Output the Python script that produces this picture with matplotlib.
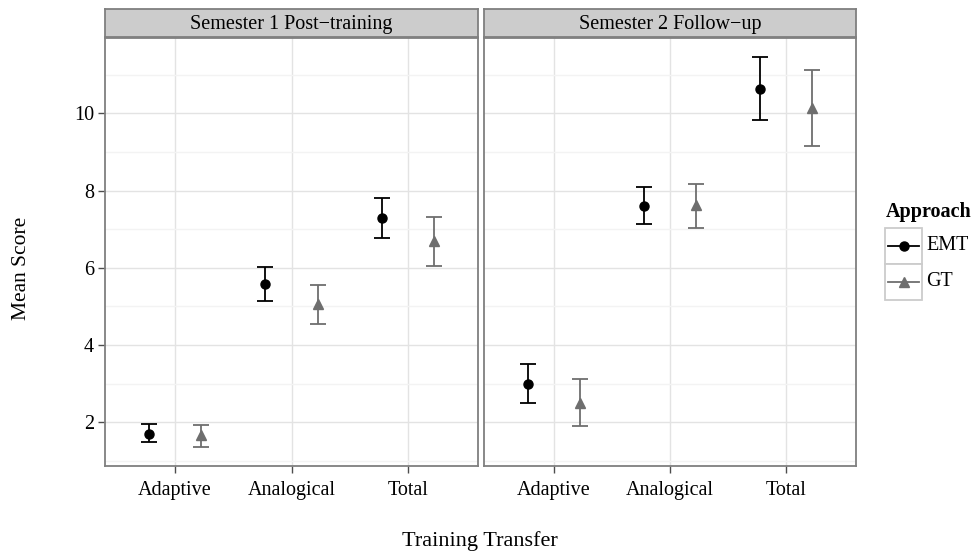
import matplotlib
matplotlib.use("Agg")
import matplotlib.pyplot as plt
from matplotlib.patches import Rectangle
from matplotlib.lines import Line2D

plt.rcParams['font.family'] = ['Liberation Serif', 'DejaVu Serif']

# data
panels = ["Semester 1 Post\u2212training", "Semester 2 Follow\u2212up"]
categories = ["Adaptive", "Analogical", "Total"]
approaches = ["EMT", "GT"]

# mean, lower, upper for each panel -> approach -> category
emt_mean = [[1.70, 5.58, 7.30], [3.00, 7.61, 10.62]]
emt_low = [[1.48, 5.14, 6.76], [2.50, 7.14, 9.83]]
emt_high = [[1.95, 6.01, 7.81], [3.50, 8.10, 11.45]]
gt_mean = [[1.67, 5.07, 6.70], [2.51, 7.63, 10.14]]
gt_low = [[1.37, 4.55, 6.05], [1.90, 7.04, 9.15]]
gt_high = [[1.93, 5.56, 7.31], [3.12, 8.18, 11.12]]

means = {"EMT": emt_mean, "GT": gt_mean}
lows = {"EMT": emt_low, "GT": gt_low}
highs = {"EMT": emt_high, "GT": gt_high}

colors = {"EMT": "black", "GT": "#6e6e6e"}
markers = {"EMT": "o", "GT": "^"}
msize = {"EMT": 6.5, "GT": 7.5}
dodge = {"EMT": -0.225, "GT": 0.225}

W, H = 976, 560
fig = plt.figure(figsize=(W / 100, H / 100), dpi=100)

def fx(px):
    return px / W

def fy(py):
    return 1 - py / H

panel_lr = [(105, 478), (484, 856)]
top, bottom = 38, 466
strip_top = 9
fs = 14.5

for k, (l, r) in enumerate(panel_lr):
    ax = fig.add_axes([fx(l), fy(bottom), fx(r - l), (bottom - top) / H])
    ax.set_xlim(0.4, 3.6)
    ax.set_ylim(0.87, 11.95)
    ax.set_yticks([2, 4, 6, 8, 10])
    ax.set_yticks([1, 3, 5, 7, 9, 11], minor=True)
    ax.set_xticks([1, 2, 3])
    ax.set_xticklabels(categories, fontsize=fs)
    ax.grid(True, which='major', color='#e3e3e3', lw=1)
    ax.grid(True, which='minor', axis='y', color='#f3f3f3', lw=1)
    ax.set_axisbelow(True)
    for sp in ax.spines.values():
        sp.set_color('#7f7f7f')
        sp.set_linewidth(1.3)
    ax.tick_params(which='major', length=5, width=1, color='#4d4d4d', pad=3)
    ax.tick_params(axis='x', pad=6)
    ax.tick_params(which='minor', length=0)
    if k == 0:
        ax.set_yticklabels(["2", "4", "6", "8", "10"], fontsize=fs)
    else:
        ax.tick_params(axis='y', which='both', left=False, labelleft=False)

    for a in approaches:
        xs = [i + 1 + dodge[a] for i in range(len(categories))]
        m = means[a][k]
        lo = [mm - v for mm, v in zip(m, lows[a][k])]
        hi = [v - mm for mm, v in zip(m, highs[a][k])]
        ax.errorbar(xs, m, yerr=[lo, hi], fmt=markers[a], color=colors[a],
                    ms=msize[a], capsize=5.5, elinewidth=1.3, capthick=1.3,
                    zorder=3)

    # strip
    sax = fig.add_axes([fx(l), fy(top - 1), fx(r - l), (top - 1 - strip_top) / H])
    sax.set_xticks([])
    sax.set_yticks([])
    sax.set_facecolor('#cccccc')
    for sp in sax.spines.values():
        sp.set_color('#7f7f7f')
        sp.set_linewidth(1.3)
    sax.text(0.5, 0.45, panels[k], ha='center', va='center', fontsize=fs,
             transform=sax.transAxes)

fig.text(fx(22), fy(268), "Mean Score", rotation=90, ha='center', va='center', fontsize=15.5)
fig.text(fx(480), fy(541), "Training Transfer", ha='center', va='center', fontsize=16)

# legend drawn by hand in pixel coordinates
lax = fig.add_axes([0, 0, 1, 1])
lax.set_xlim(0, W)
lax.set_ylim(H, 0)
lax.axis('off')
lax.text(886, 212, "Approach", fontsize=fs, fontweight='bold', ha='left', va='center')
box_l, box_r = 885, 922
box_t = 228
box_h = 36
for i, a in enumerate(approaches):
    y0 = box_t + i * box_h
    lax.add_patch(Rectangle((box_l, y0), box_r - box_l, box_h,
                            facecolor='white', edgecolor='#cccccc', lw=1.3))
    yc = y0 + box_h / 2
    lax.add_line(Line2D([box_l + 3, box_r - 3], [yc, yc], color=colors[a], lw=1.3))
    lax.plot([(box_l + box_r) / 2], [yc], marker=markers[a], color=colors[a], ms=msize[a])
    lax.text(926, yc, a, fontsize=fs, ha='left', va='center')

fig.savefig("out.png", dpi=100)
